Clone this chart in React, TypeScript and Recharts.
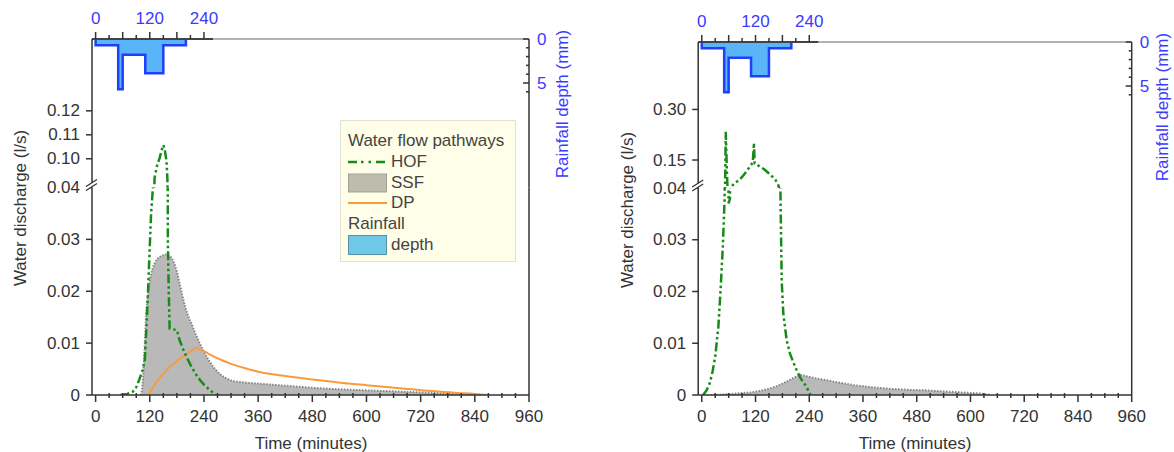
import React from "react";
import { ComposedChart, Area, Line, XAxis, YAxis, ReferenceLine, Legend } from "recharts";

const FONT = "'Liberation Sans', Arial, Helvetica, sans-serif";
const INK = "#333333";
const BLUE = "#3b3bff";
const GREEN = "#178a17";
const ORANGE = "#fb9a3c";
const SSF_FILL = "#b9b9b9";
const RAIN_FILL = "#5ab4f8";
const RAIN_EDGE = "#1f3fff";

const W = 587;
const H = 452;
const X_DOMAIN: [number, number] = [-8, 960];
const RAIN_MAX = 6.5;
const RAIN_PX_PER_MM = 8.8;

// storm hyetograph, identical for both runs (step start in min, depth in mm)
const rainTime = [0, 0, 50, 60, 110, 150, 200];
const rainDepth = [0, 0.7, 5.7, 1.8, 3.9, 0.7, 0];

// run A (left plot): discharge in l/s
const hofATime = [55, 70, 82, 90, 97, 104, 109, 112, 116, 120, 123, 127, 130.5, 136, 142, 147, 150, 153, 157, 159, 160, 162, 164, 180, 186, 193, 201, 212, 223, 232, 241, 250, 258, 266];
const hofAFlow = [0, 0.0002, 0.0006, 0.0015, 0.003, 0.0048, 0.0068, 0.012, 0.0197, 0.0287, 0.0352, 0.04, 0.092, 0.097, 0.1005, 0.104, 0.1057, 0.104, 0.099, 0.092, 0.03, 0.02, 0.0128, 0.0125, 0.0106, 0.009, 0.0074, 0.0055, 0.0039, 0.0028, 0.0019, 0.0012, 0.0006, 0];

const ssfATime = [100, 104, 108, 112, 116, 120, 126, 132, 140, 148, 156, 164, 172, 180, 188, 196, 204, 214, 224, 236, 248, 262, 276, 290, 305, 320, 360, 420, 480, 540, 600, 660, 720, 780, 840, 870];
const ssfAFlow = [0, 0.002, 0.008, 0.0155, 0.0195, 0.022, 0.0243, 0.0256, 0.0265, 0.0269, 0.0271, 0.0268, 0.0258, 0.0238, 0.0208, 0.0178, 0.0155, 0.0134, 0.0113, 0.009, 0.0071, 0.0053, 0.004, 0.0032, 0.0027, 0.0025, 0.0022, 0.0018, 0.0014, 0.0011, 0.0009, 0.0007, 0.0005, 0.0003, 0.0001, 0];

const dpATime = [116, 125, 135, 145, 155, 165, 175, 185, 195, 205, 215, 223, 232, 245, 260, 280, 300, 330, 360, 400, 440, 480, 520, 560, 600, 650, 700, 750, 800, 840, 865];
const dpAFlow = [0, 0.0012, 0.0025, 0.0036, 0.0046, 0.0055, 0.0062, 0.0069, 0.0075, 0.0081, 0.0087, 0.0091, 0.0088, 0.0082, 0.0075, 0.0067, 0.006, 0.0052, 0.0045, 0.0039, 0.0034, 0.003, 0.0026, 0.0022, 0.0019, 0.0015, 0.0011, 0.0007, 0.0004, 0.0002, 0];

// run B (right plot)
const hofBTime = [3, 10, 18, 24, 30, 37, 42, 47, 51, 52, 53.5, 56, 58, 60, 63, 65, 75, 85, 95, 105, 111, 114, 116.5, 118, 122, 130, 140, 150, 158, 165, 171, 174, 175.5, 178.5, 182, 189.5, 197, 204, 212, 219, 227, 234, 238, 243];
const hofBFlow = [0, 0.0008, 0.0023, 0.0045, 0.0074, 0.0132, 0.0203, 0.0287, 0.038, 0.06, 0.234, 0.12, 0.05, 0.037, 0.038, 0.07, 0.083, 0.092, 0.108, 0.126, 0.137, 0.145, 0.2, 0.14, 0.138, 0.13, 0.122, 0.11, 0.1, 0.09, 0.075, 0.06, 0.04, 0.022, 0.0158, 0.0106, 0.008, 0.0064, 0.0048, 0.0035, 0.0024, 0.0016, 0.0008, 0];

const ssfBTime = [20, 50, 80, 110, 130, 150, 170, 190, 205, 220, 235, 250, 270, 300, 340, 380, 420, 460, 500, 540, 580, 620, 645];
const ssfBFlow = [0, 0.0001, 0.0003, 0.0005, 0.0008, 0.0012, 0.0018, 0.0026, 0.0033, 0.0039, 0.0036, 0.0033, 0.003, 0.0025, 0.0019, 0.0015, 0.0012, 0.001, 0.0009, 0.0007, 0.0005, 0.0003, 0];

// axis ticks
const timeTicks = [0, 30, 60, 90, 120, 150, 180, 210, 240, 270, 300, 330, 360, 390, 420, 450, 480, 510, 540, 570, 600, 630, 660, 690, 720, 750, 780, 810, 840, 870, 900, 930, 960];
const topTicks = [0, 30, 60, 90, 120, 150, 180, 210, 240];
const rainTicks = [0, 1, 2, 3, 4, 5, 6];
const lowTicks = [0, 0.01, 0.02, 0.03, 0.04];
const upTicksA = [0.1, 0.11, 0.12];
const upTicksB = [0.15, 0.3];

type Pt = { t: number; q: number };
const pts = (t: number[], q: number[]): Pt[] => t.map((v, i) => ({ t: v, q: q[i] }));
const rainData = rainTime.map((t, i) => ({ t, d: rainDepth[i] }));

const labelStyle = { fontFamily: FONT, fontSize: 17 };

const BottomTick = (p: any) => {
  const { x, y, payload } = p;
  const major = payload.value % 120 === 0;
  return (
    <g>
      <line x1={x} x2={x} y1={major ? y : y - 2} y2={y + (major ? 7 : 3)} stroke={INK} strokeWidth={1.5} />
      {major && (
        <text x={x} y={y + 21} textAnchor="middle" dominantBaseline="central" fill={INK} style={labelStyle}>
          {payload.value}
        </text>
      )}
    </g>
  );
};

const TopTick = (p: any) => {
  const { x, y, payload } = p;
  const v = payload.value;
  return (
    <g>
      <line x1={x} x2={x} y1={y} y2={y - (v % 60 === 0 ? 7 : 4)} stroke={INK} strokeWidth={1.5} />
      {v % 120 === 0 && (
        <text x={x} y={y - 21} textAnchor="middle" dominantBaseline="central" fill={BLUE} style={labelStyle}>
          {v}
        </text>
      )}
    </g>
  );
};

const RainTick = (p: any) => {
  const { x, y, payload } = p;
  const v = payload.value;
  const major = v % 5 === 0;
  return (
    <g>
      <line x1={x} x2={x - (major ? 6 : 3)} y1={y} y2={y} stroke={INK} strokeWidth={1.5} />
      {major && (
        <text x={x + 8} y={y} textAnchor="start" dominantBaseline="central" fill={BLUE} style={labelStyle}>
          {v}
        </text>
      )}
    </g>
  );
};

// left discharge ticks; the top tick of the lower segment carries the axis break
const flowTick = (breakAt?: number) => (p: any) => {
  const { x, y, payload } = p;
  const v = payload.value;
  const text = v === 0 ? "0" : v.toFixed(2);
  return (
    <g>
      <line x1={x - 6} x2={x} y1={y} y2={y} stroke={INK} strokeWidth={1.5} />
      <text x={x - 12} y={y} textAnchor="end" dominantBaseline="central" fill={INK} style={labelStyle}>
        {text}
      </text>
      {breakAt !== undefined && Math.abs(v - breakAt) < 1e-9 && (
        <g>
          <polygon points={`${x - 6},${y - 1} ${x + 5},${y - 8} ${x + 5},${y - 4} ${x - 6},${y + 3}`} fill="#fff" />
          <line x1={x - 6} y1={y - 1} x2={x + 5} y2={y - 8} stroke={INK} strokeWidth={1.3} />
          <line x1={x - 6} y1={y + 3} x2={x + 5} y2={y - 4} stroke={INK} strokeWidth={1.3} />
        </g>
      )}
    </g>
  );
};

const legendRows = [
  { kind: "head", label: "Water flow pathways" },
  { kind: "hof", label: "HOF" },
  { kind: "ssf", label: "SSF" },
  { kind: "dp", label: "DP" },
  { kind: "head", label: "Rainfall" },
  { kind: "rain", label: "depth" },
];

function FlowLegend() {
  return (
    <div
      style={{
        boxSizing: "border-box",
        width: 176,
        height: 142,
        padding: "10px 0 0 7px",
        background: "#fffee9",
        border: "1px solid #e2e1cf",
        fontFamily: FONT,
        fontSize: 17,
        color: "#444",
      }}
    >
      {legendRows.map((r, i) => (
        <div key={i} style={{ height: 20.7, display: "flex", alignItems: "center", whiteSpace: "nowrap" }}>
          {r.kind !== "head" && (
            <svg width={39} height={20} style={{ marginRight: 4, flex: "none" }}>
              {r.kind === "hof" && <line x1={0} x2={39} y1={10} y2={10} stroke={GREEN} strokeWidth={2.5} strokeDasharray="9 4 2.5 5 2.5 5" />}
              {r.kind === "dp" && <line x1={0} x2={39} y1={10} y2={10} stroke={ORANGE} strokeWidth={2} />}
              {r.kind === "ssf" && <rect x={0.5} y={1} width={38} height={18} fill="#bdbdae" stroke="#a3a394" />}
              {r.kind === "rain" && <rect x={0.5} y={0.5} width={38} height={19} fill="#70c8e8" stroke="#5a8fa8" />}
            </svg>
          )}
          <span>{r.label}</span>
        </div>
      ))}
    </div>
  );
}

interface PanelProps {
  offsetX: number;
  plotL: number;
  plotR: number;
  plotT: number;
  brk: number;
  plotB: number;
  upDomain: [number, number];
  upTicks: number[];
  hof: Pt[];
  ssf: Pt[];
  dp?: Pt[];
  ssfCurve: "monotone" | "linear";
  legend?: boolean;
}

function Panel(p: PanelProps) {
  const yw = 60;
  const rw = 40;
  const frame = { stroke: INK, strokeWidth: 1.5 };
  const hofLine = (
    <Line
      data={p.hof}
      dataKey="q"
      type="linear"
      stroke={GREEN}
      strokeWidth={2.5}
      strokeDasharray="9 3 2.5 3 2.5 3"
      dot={false}
      activeDot={false}
      isAnimationActive={false}
    />
  );
  const layer = { position: "absolute" as const, left: 0, top: 0 };

  return (
    <div style={{ position: "absolute", left: p.offsetX, top: 0, width: W, height: H }}>
      {/* upper discharge segment above the break */}
      <div style={layer}>
        <ComposedChart width={W} height={H} margin={{ top: p.plotT, bottom: H - p.brk, left: p.plotL - yw, right: W - p.plotR }}>
          <XAxis type="number" dataKey="t" domain={X_DOMAIN} allowDataOverflow hide />
          <YAxis
            type="number"
            domain={p.upDomain}
            allowDataOverflow
            ticks={p.upTicks}
            interval={0}
            width={yw}
            tickSize={0}
            tickMargin={0}
            tickLine={false}
            axisLine={frame}
            tick={flowTick()}
          />
          <ReferenceLine x={960} stroke={INK} strokeWidth={1.5} />
          {hofLine}
        </ComposedChart>
      </div>

      {/* lower discharge segment 0 - 0.04 */}
      <div style={layer}>
        <ComposedChart width={W} height={H} margin={{ top: p.brk, bottom: 0, left: p.plotL - yw, right: W - p.plotR }}>
          <XAxis
            type="number"
            dataKey="t"
            domain={X_DOMAIN}
            allowDataOverflow
            ticks={timeTicks}
            interval={0}
            height={H - p.plotB}
            tickSize={0}
            tickMargin={0}
            tickLine={false}
            axisLine={frame}
            tick={BottomTick}
          />
          <YAxis
            type="number"
            domain={[0, 0.04]}
            allowDataOverflow
            ticks={lowTicks}
            interval={0}
            width={yw}
            tickSize={0}
            tickMargin={0}
            tickLine={false}
            axisLine={frame}
            tick={flowTick(0.04)}
          />
          <ReferenceLine x={960} stroke={INK} strokeWidth={1.5} />
          <Area
            data={p.ssf}
            dataKey="q"
            type={p.ssfCurve}
            fill={SSF_FILL}
            fillOpacity={1}
            stroke="#858585"
            strokeWidth={2}
            strokeDasharray="1.5 1.5"
            dot={false}
            activeDot={false}
            isAnimationActive={false}
          />
          {p.dp && (
            <Line data={p.dp} dataKey="q" type="monotone" stroke={ORANGE} strokeWidth={2} dot={false} activeDot={false} isAnimationActive={false} />
          )}
          {hofLine}
          {p.legend && (
            <Legend
              layout="vertical"
              align="center"
              verticalAlign="middle"
              content={() => <FlowLegend />}
              wrapperStyle={{ left: 340, top: 120, width: 176, height: 142 }}
            />
          )}
        </ComposedChart>
      </div>

      {/* inverted rainfall hyetograph with its own top and right axes */}
      <div style={layer}>
        <ComposedChart
          width={W}
          height={H}
          data={rainData}
          margin={{ top: 0, bottom: H - p.plotT - RAIN_MAX * RAIN_PX_PER_MM, left: p.plotL, right: W - p.plotR - rw }}
        >
          <XAxis
            type="number"
            dataKey="t"
            orientation="top"
            domain={X_DOMAIN}
            allowDataOverflow
            ticks={topTicks}
            interval={0}
            height={p.plotT}
            tickSize={0}
            tickMargin={0}
            tickLine={false}
            axisLine={{ stroke: "#666", strokeWidth: 1.2 }}
            tick={TopTick}
          />
          <YAxis
            type="number"
            orientation="right"
            reversed
            domain={[0, RAIN_MAX]}
            allowDataOverflow
            ticks={rainTicks}
            interval={0}
            width={rw}
            tickSize={0}
            tickMargin={0}
            tickLine={false}
            axisLine={false}
            tick={RainTick}
          />
          <ReferenceLine segment={[{ x: -8, y: 0 }, { x: 260, y: 0 }]} stroke="#222" strokeWidth={2} />
          <Area
            dataKey="d"
            type="stepAfter"
            fill={RAIN_FILL}
            fillOpacity={1}
            stroke={RAIN_EDGE}
            strokeWidth={2.5}
            dot={false}
            activeDot={false}
            isAnimationActive={false}
          />
        </ComposedChart>
      </div>
    </div>
  );
}

const titles = [
  { text: "Water discharge (l/s)", x: 20, y: 208, rot: -90, color: INK },
  { text: "Water discharge (l/s)", x: 627, y: 210, rot: -90, color: INK },
  { text: "Rainfall depth (mm)", x: 562, y: 104, rot: -90, color: BLUE },
  { text: "Rainfall depth (mm)", x: 1162, y: 107, rot: -90, color: BLUE },
  { text: "Time (minutes)", x: 311, y: 443, rot: 0, color: INK },
  { text: "Time (minutes)", x: 915, y: 443, rot: 0, color: INK },
];

export default function App() {
  return (
    <div style={{ position: "absolute", left: 0, top: 0, width: 1174, height: 452, background: "#fff", overflow: "hidden" }}>
      <Panel
        offsetX={0}
        plotL={92}
        plotR={529}
        plotT={39}
        brk={187.5}
        plotB={395}
        upDomain={[0.088, 0.15]}
        upTicks={upTicksA}
        hof={pts(hofATime, hofAFlow)}
        ssf={pts(ssfATime, ssfAFlow)}
        dp={pts(dpATime, dpAFlow)}
        ssfCurve="monotone"
        legend
      />
      <Panel
        offsetX={587}
        plotL={111.2}
        plotR={544.7}
        plotT={42}
        brk={188}
        plotB={395}
        upDomain={[0.067, 0.5]}
        upTicks={upTicksB}
        hof={pts(hofBTime, hofBFlow)}
        ssf={pts(ssfBTime, ssfBFlow)}
        ssfCurve="linear"
      />
      <svg width={1174} height={452} style={{ position: "absolute", left: 0, top: 0, pointerEvents: "none" }}>
        {titles.map((t, i) => (
          <text
            key={i}
            x={t.x}
            y={t.y}
            fill={t.color}
            textAnchor="middle"
            dominantBaseline="central"
            transform={t.rot ? `rotate(${t.rot} ${t.x} ${t.y})` : undefined}
            style={labelStyle}
          >
            {t.text}
          </text>
        ))}
      </svg>
    </div>
  );
}
